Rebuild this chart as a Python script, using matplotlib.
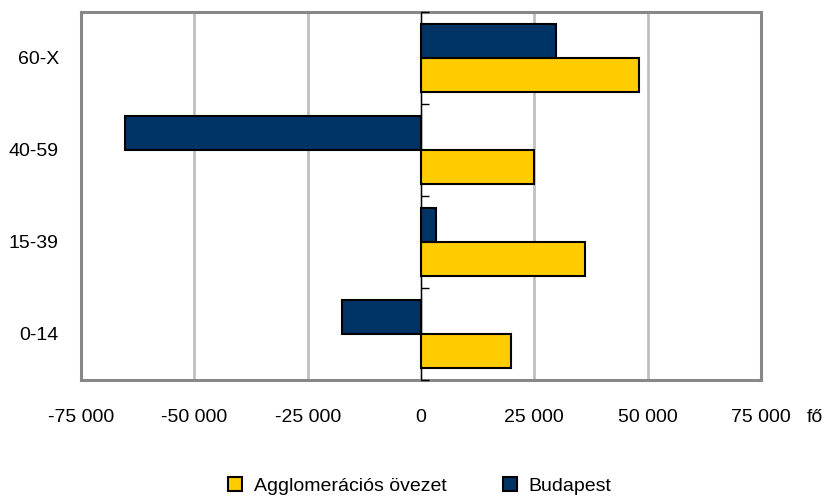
import matplotlib
matplotlib.use("Agg")
import matplotlib.pyplot as plt
from matplotlib.patches import Patch
from matplotlib import font_manager as fm

names = {f.name for f in fm.fontManager.ttflist}
fam = "Liberation Sans Narrow" if "Liberation Sans Narrow" in names else "Liberation Sans"
plt.rcParams['font.family'] = [fam, 'DejaVu Sans']

categories = ["0-14", "15-39", "40-59", "60-X"]
agglo = [19800, 36100, 24900, 48000]
budapest = [-17400, 3300, -65400, 29700]
xticks = [-75000, -50000, -25000, 0, 25000, 50000, 75000]
series_names = ["Agglomerációs övezet", "Budapest"]
colors = ["#FFCC00", "#003366"]

FS = 14

fig = plt.figure(figsize=(8.30, 4.99), dpi=100)
ax = fig.add_axes([81/830, 1-380/499, (761-81)/830, (380-12)/499])

pos = list(range(len(categories)))
h = 0.37
off = 0.185
ax.barh([p - off for p in pos], agglo, height=h, color=colors[0], edgecolor="black", linewidth=1.5, zorder=3)
ax.barh([p + off for p in pos], budapest, height=h, color=colors[1], edgecolor="black", linewidth=1.5, zorder=3)

ax.set_xlim(-75000, 75000)
ax.set_ylim(-0.5, len(categories) - 0.5)
ax.set_xticks(xticks)
ax.set_xticklabels([f"{v:,}".replace(",", " ") for v in xticks], fontsize=FS)
ax.tick_params(axis='x', length=0, pad=21)
ax.set_yticks(pos)
ax.set_yticklabels(categories, fontsize=FS)
ax.tick_params(axis='y', length=0, pad=16)
ax.grid(axis='x', color="#C0C0C0", linewidth=2, zorder=0)
ax.set_axisbelow(True)
for s in ax.spines.values():
    s.set_color("#888888")
    s.set_linewidth(2.2)

sec = ax.secondary_yaxis(0.5)
sec.set_yticks([p - 0.5 for p in pos] + [len(categories) - 0.5])
sec.set_yticklabels([])
sec.tick_params(axis='y', length=6, width=1, color="black", direction='out')
sec.spines['left'].set_color("black")
sec.spines['left'].set_linewidth(1.5)
sec.set_zorder(4)

fig.text(815/830, 1-418/499, "fő", fontsize=FS, ha='center', va='center')

handles = [Patch(facecolor=c, edgecolor="black", linewidth=1.5) for c in colors]
fig.legend(handles, series_names, loc='center', bbox_to_anchor=(420/830, 1-486/499), ncol=2,
           frameon=False, fontsize=FS, handlelength=0.72, handleheight=0.72,
           handletextpad=0.6, columnspacing=2.9, borderpad=0, borderaxespad=0)

fig.savefig("out.png", dpi=100)
